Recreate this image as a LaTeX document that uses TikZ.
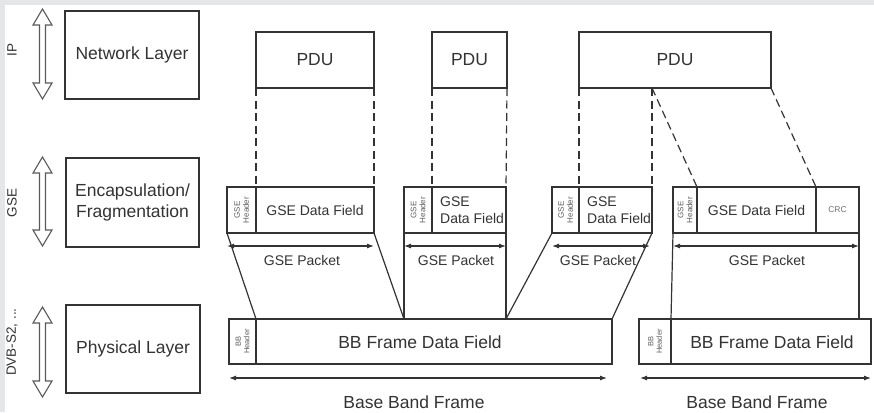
\documentclass[tikz,border=0pt]{standalone}
\usepackage{fontspec}
\setmainfont{Liberation Sans}
\usetikzlibrary{calc,arrows.meta}
\definecolor{linec}{HTML}{333333}
\definecolor{textc}{HTML}{333333}
\definecolor{bgc}{HTML}{E4E6E8}
\definecolor{arrc}{HTML}{5A5A5A}
\begin{document}
\begin{tikzpicture}[x=1pt,y=-1pt,
  box/.style={draw=linec, line width=1.3pt, inner sep=0pt, outer sep=0pt, anchor=north west, text=textc},
  bigtxt/.style={font=\fontsize{17.5}{21}\selectfont},
  midtxt/.style={font=\fontsize{14}{17}\selectfont},
  smalltxt/.style={font=\fontsize{8}{9}\selectfont, text=textc!80},
  lbl/.style={text=textc, inner sep=0pt},
  conn/.style={draw=linec, line width=1.2pt},
  dconn/.style={draw=linec, line width=1.2pt, dash pattern=on 8pt off 4.5pt},
  dimarr/.style={draw=linec, line width=1.1pt, {Latex[length=7pt,width=5pt]}-{Latex[length=7pt,width=5pt]}},
  dblarrow/.style={draw=arrc, line width=1.1pt, fill=white}
]
\useasboundingbox (0,0) rectangle (874,412);
\fill[bgc] (0,0) rectangle (874,412);
\fill[white] (5,5) rectangle (874,412);

% layer boxes
\node[box, bigtxt, minimum width=134pt, minimum height=88pt] (net) at (65,11) {Network Layer};
\node[box, bigtxt, minimum width=133pt, minimum height=89pt, align=center] (enc) at (66,158) {Encapsulation/\\Fragmentation};
\node[box, bigtxt, minimum width=134pt, minimum height=88pt] (phy) at (66,305) {Physical Layer};

% side labels
\node[lbl, rotate=90, font=\fontsize{13.5}{15}\selectfont] (lip) at (12,50) {IP};
\node[lbl, rotate=90, font=\fontsize{13.5}{15}\selectfont] (lgse) at (12,203) {GSE};
\node[lbl, rotate=90, font=\fontsize{13.5}{15}\selectfont] (ldvb) at (12,342) {DVB-S2, ...};

% double arrows
\foreach \t/\b in {9/99, 157/246, 307/397} {
  \draw[dblarrow] (42.5,\t) -- (52,\t+16) -- (45.5,\t+16) -- (45.5,\b-16) -- (52,\b-16) -- (42.5,\b)
    -- (33,\b-16) -- (39.5,\b-16) -- (39.5,\t+16) -- (33,\t+16) -- cycle;
}

% PDUs
\node[box, bigtxt, minimum width=118pt, minimum height=56pt] (pdu1) at (256,32) {PDU};
\node[box, bigtxt, minimum width=75pt, minimum height=56pt] (pdu2) at (432,32) {PDU};
\node[box, bigtxt, minimum width=192pt, minimum height=56pt] (pdu3) at (579,32) {PDU};

% GSE packets
\node[box, minimum width=29pt, minimum height=46pt] (h1) at (227,187) {};
\node[box, midtxt, minimum width=118pt, minimum height=46pt] (d1) at (256,187) {GSE Data Field};
\node[box, minimum width=28pt, minimum height=46pt] (h2) at (404,187) {};
\node[box, minimum width=74pt, minimum height=46pt] (d2) at (432,187) {};
\node[box, minimum width=27pt, minimum height=46pt] (h3) at (552,187) {};
\node[box, minimum width=73pt, minimum height=46pt] (d3) at (579,187) {};
\node[box, minimum width=24pt, minimum height=46pt] (h4) at (673,187) {};
\node[box, midtxt, minimum width=119pt, minimum height=46pt] (d4) at (697,187) {GSE Data Field};
\node[box, minimum width=43pt, minimum height=46pt, font=\fontsize{8.5}{9}\selectfont, text=textc!70] (crc) at (816,187) {CRC};

\node[lbl, midtxt, align=left, anchor=west] (t2) at ($(d2.west)+(8,0)$) {GSE\\Data Field};
\node[lbl, midtxt, align=left, anchor=west] (t3) at ($(d3.west)+(8,0)$) {GSE\\Data Field};

\foreach \h in {h1,h2,h3,h4} {
  \node[lbl, smalltxt, rotate=90, align=center] (\h t) at (\h.center) {GSE\\Header};
}

% BB frames
\node[box, minimum width=27pt, minimum height=45pt] (bh1) at (229,319) {};
\node[box, bigtxt, minimum width=356pt, minimum height=45pt] (bd1) at (256,319) {};
\node[box, minimum width=32pt, minimum height=45pt] (bh2) at (639,319) {};
\node[box, bigtxt, minimum width=200pt, minimum height=45pt] (bd2) at (671,319) {};
\node[lbl, bigtxt] (bt1) at (420,342) {BB Frame Data Field};
\node[lbl, bigtxt] (bt2) at (772,342) {BB Frame Data Field};
\foreach \h in {bh1,bh2} {
  \node[lbl, smalltxt, font=\fontsize{7.5}{8.5}\selectfont, rotate=90, align=center] (\h t) at (\h.center) {BB\\Header};
}

% dashed PDU mapping
\coordinate (p3m) at (d3.north east |- pdu3.south);
\draw[dconn] (pdu1.south west) -- (d1.north west);
\draw[dconn] (pdu1.south east) -- (d1.north east);
\draw[dconn] (pdu2.south west) -- (d2.north west);
\draw[dconn] (pdu2.south east) -- (d2.north east);
\draw[dconn] (pdu3.south west) -- (d3.north west);
\draw[dconn] (p3m) -- (d3.north east);
\draw[dconn] (p3m) -- (d4.north west);
\draw[dconn] (pdu3.south east) -- (crc.north west);

% solid mapping to BB frames
\coordinate (b404) at (h2.west |- bd1.north);
\coordinate (b506) at (d2.east |- bd1.north);
\coordinate (b859) at (crc.east |- bd2.north);
\draw[conn] (h1.south west) -- (bd1.north west);
\draw[conn] (d1.south east) -- (b404);
\draw[conn] (h2.south west) -- (b404);
\draw[conn] (d2.south east) -- (b506);
\draw[conn] (h3.south west) -- (b506);
\draw[conn] (d3.south east) -- (bd1.north east);
\draw[conn] (h4.south west) -- (bd2.north west);
\draw[conn] (crc.south east) -- (b859);

% GSE packet dimension arrows
\draw[dimarr] ($(h1.south west)+(0,13)$) -- ($(d1.south east)+(0,13)$);
\draw[dimarr] ($(h2.south west)+(0,13)$) -- ($(d2.south east)+(0,13)$);
\draw[dimarr] ($(h3.south west)+(0,13)$) -- ($(d3.south east)+(-2,13)$);
\draw[dimarr] ($(h4.south west)+(0,13)$) -- ($(crc.south east)+(0,13)$);
\node[lbl, midtxt] (gp1) at (302,260) {GSE Packet};
\node[lbl, midtxt] (gp2) at (456,260) {GSE Packet};
\node[lbl, midtxt] (gp3) at (598,260) {GSE Packet};
\node[lbl, midtxt] (gp4) at (767,260) {GSE Packet};

% base band frame arrows
\draw[dimarr] ($(bh1.south west)+(0,14)$) -- ($(bd1.south east)+(-5,14)$);
\draw[dimarr] ($(bh2.south west)+(1,14)$) -- ($(bd2.south east)+(0,14)$);
\node[lbl, bigtxt] (bbf1) at (414,402) {Base Band Frame};
\node[lbl, bigtxt] (bbf2) at (757,402) {Base Band Frame};
\end{tikzpicture}
\end{document}
